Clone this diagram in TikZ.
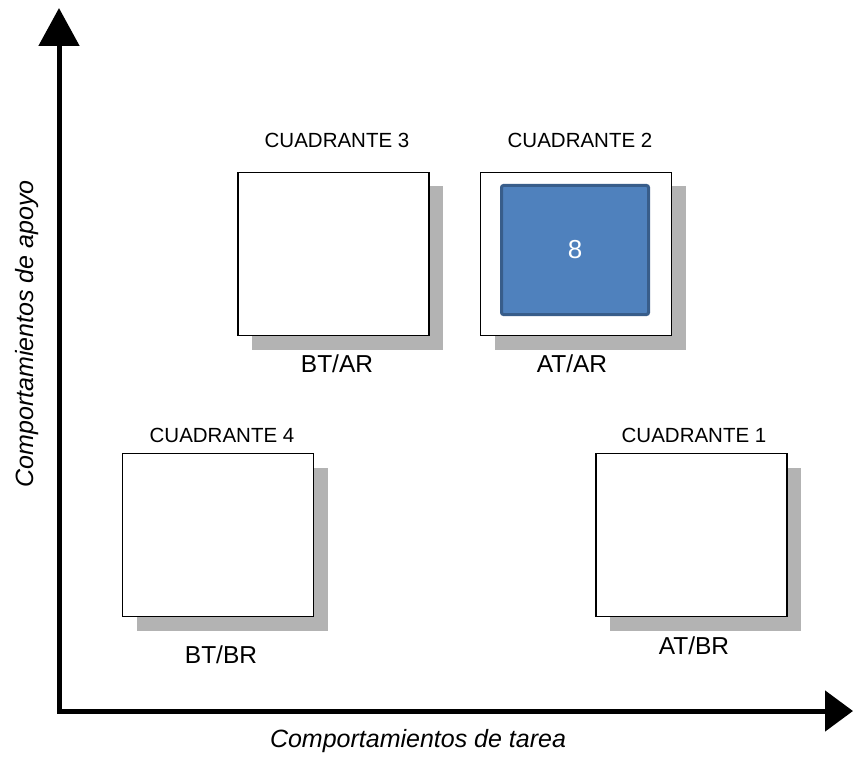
\documentclass[tikz,border=0pt]{standalone}
\usepackage{fontspec}
\setmainfont{Liberation Sans}
\usepackage{xcolor}
\usetikzlibrary{positioning,arrows.meta,shadows}
\definecolor{shadowgray}{HTML}{B3B3B3}
\definecolor{quadblue}{HTML}{4F81BD}
\definecolor{quadedge}{HTML}{385D8A}
\tikzset{
  axis/.style={line width=5pt, line join=miter, {Triangle[width=40pt,length=38pt]}-{Triangle[width=40pt,length=28pt]}},
  quad/.style={draw, fill=white, line width=1.5pt, minimum width=191pt, minimum height=163pt,
    general shadow={fill=shadowgray, shadow xshift=14pt, shadow yshift=-14pt}},
  active/.style={draw=quadedge, fill=quadblue, line width=3pt, rounded corners=2pt,
    minimum width=147pt, minimum height=129pt, text=white, font=\fontsize{26}{30}\selectfont},
  title/.style={inner sep=0pt, font=\fontsize{20.5}{24}\selectfont},
  code/.style={inner sep=0pt, font=\fontsize{24.5}{28}\selectfont},
  axislabel/.style={inner sep=0pt, font=\fontsize{25}{30}\selectfont\itshape}
}
\begin{document}
\begin{tikzpicture}[x=1pt,y=-1pt]
        \useasboundingbox (0,0) rectangle (853,759);
        % axes
        \coordinate (o) at (59,711);
        \coordinate (ytop) at (59,8);
        \coordinate (xend) at (853,711);
        \draw[axis] (ytop) -- (o) -- (xend);
        \node[axislabel] (xlab) at (418,741) {Comportamientos de tarea};
        \node[axislabel, rotate=90] (ylab) at (27,334) {Comportamientos de apoyo};
        % quadrants
        \node[quad] (q3) at (333.5,254) {};
        \node[quad] (q2) at (576,254) {};
        \node[quad] (q4) at (218,535) {};
        \node[quad] (q1) at (691.5,535) {};
        \node[active] (q2in) at (575,250) {8};
        % titles
        \node[title] (t3) at (337,140) {CUADRANTE 3};
        \node[title] (t2) at (580,140) {CUADRANTE 2};
        \node[title] (t4) at (222,435) {CUADRANTE 4};
        \node[title] (t1) at (694,435) {CUADRANTE 1};
        % codes under the boxes
        \node[code] (c3) at (337,364) {BT/AR};
        \node[code] (c2) at (572,364) {AT/AR};
        \node[code] (c4) at (221,655) {BT/BR};
        \node[code] (c1) at (694,646) {AT/BR};
\end{tikzpicture}
\end{document}
